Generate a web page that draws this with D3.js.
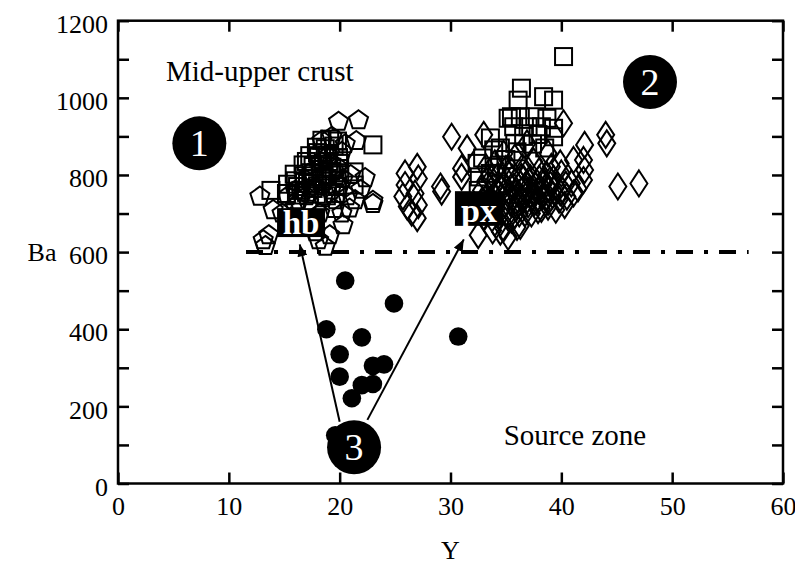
<!DOCTYPE html>
<html>
<head>
<meta charset="utf-8">
<script src="https://cdn.jsdelivr.net/npm/d3@7"></script>
<style>
  body { margin: 0; background: #fff; }
  svg { display: block; }
  text { font-family: "Liberation Serif", "Times New Roman", serif; fill: #000; }
</style>
</head>
<body>
<svg id="chart" width="795" height="565"></svg>
<script>
// ---- axis ticks ----
const xTicks = [0, 10, 20, 30, 40, 50, 60];
const yTicks = [0, 100, 200, 300, 400, 500, 600, 700, 800, 900, 1000, 1100, 1200];
const yLabelled = [0, 200, 400, 600, 800, 1000, 1200];

// ---- samples: [Y, Ba] ----
// hornblende-type samples (open pentagons)
const pentagons = [
  [19.9, 938], [21.7, 942], [21.5, 888], [19.3, 899], [18.4, 889], [20.5, 880], [20.2, 860],
  [12.8, 744], [14.0, 709], [13.6, 644], [13.1, 631], [14.8, 700], [15.6, 690],
  [19.5, 712], [20.9, 713], [21.4, 735], [20.2, 700], [20.3, 670], [19.1, 644], [18.1, 631],
  [18.7, 614], [13.3, 616], [17.8, 652], [16.9, 668], [18.2, 700],
  [20.7, 745], [23.0, 733], [23.0, 725], [21.9, 762], [22.3, 792],
  [16.0, 760], [16.8, 790], [17.5, 810], [18.3, 835], [19.0, 850], [17.9, 770],
  [18.8, 800], [19.8, 820], [20.3, 790], [15.3, 745], [16.3, 735], [17.2, 728],
  [19.2, 760], [20.0, 772], [17.0, 745], [18.5, 740], [19.6, 735], [16.0, 720],
  [21.0, 800]
];

// open squares
const squares = [
  [18.4, 890], [19.1, 893], [19.8, 888],
  [17.9, 872], [18.7, 868], [19.5, 875],
  [17.3, 850], [18.1, 846], [18.9, 852], [19.9, 845],
  [16.7, 826], [17.6, 822], [18.5, 828], [19.3, 820], [20.0, 830],
  [15.9, 802], [16.8, 798], [17.7, 804], [18.6, 796], [19.5, 800], [20.0, 806],
  [15.3, 776], [16.2, 770], [17.1, 778], [18.0, 772], [18.9, 776], [19.8, 770],
  [15.2, 752], [16.1, 748], [17.0, 755], [17.9, 750], [18.8, 746], [19.6, 752],
  [17.4, 790], [18.3, 815], [19.0, 835], [16.5, 760], [17.6, 765], [18.4, 785],
  [19.2, 810], [16.0, 785], [17.0, 835], [18.0, 858],
  [13.8, 760], [21.3, 808], [21.3, 774], [23.0, 878],
  [40.2, 1107], [36.4, 1025], [36.1, 994], [38.4, 1003], [39.3, 994],
  [35.5, 951], [36.3, 951], [37.6, 951], [38.7, 947], [35.2, 947],
  [39.3, 921], [35.7, 925], [37.0, 925], [38.2, 925], [39.3, 899], [35.8, 882],
  [33.6, 896], [32.9, 844], [33.9, 865], [32.4, 830], [33.6, 804], [32.5, 760],
  [34.5, 870], [35.0, 840], [36.6, 900], [37.4, 880], [38.5, 870], [34.2, 820],
  [36.0, 860], [37.9, 905], [32.6, 795]
];

// pyroxene-type samples (open diamonds)
const diamonds = [
  [25.9, 804], [27.0, 821], [25.9, 774], [27.1, 791], [25.7, 744], [26.8, 752],
  [26.1, 718], [27.1, 722], [27.0, 688], [26.5, 702], [29.1, 770], [29.2, 757],
  [30.1, 899], [31.5, 869], [31.0, 795], [31.0, 817], [33.0, 904], [32.5, 644],
  [34.5, 653], [36.0, 665],
  [45.1, 770], [47.0, 778], [44.0, 904], [44.1, 882], [42.1, 878], [42.0, 839],
  [42.1, 813], [42.0, 787], [41.1, 839], [40.9, 778], [41.1, 752], [40.2, 934],
  [39.9, 830], [40.0, 804], [39.1, 821], [38.8, 856], [39.0, 787], [38.8, 718],
  [37.9, 761], [37.9, 709], [37.0, 813], [36.7, 770], [36.1, 735], [36.9, 882],
  [36.7, 700],
  [32.8, 760], [33.2, 785], [33.5, 735], [33.9, 770], [34.1, 712], [34.3, 798],
  [34.6, 745], [34.8, 778], [35.0, 702], [35.2, 758], [35.4, 728], [35.6, 792],
  [35.9, 714], [36.1, 752], [36.3, 776], [36.5, 738], [36.8, 758], [37.0, 724],
  [37.2, 792], [37.4, 744], [37.7, 772], [37.9, 734], [38.1, 754], [38.4, 778],
  [38.6, 742], [38.9, 764], [39.2, 748], [39.5, 772], [39.8, 736], [40.1, 760],
  [40.5, 744],
  [33.0, 692], [34.0, 676], [34.8, 662], [35.5, 684], [36.3, 668], [33.8, 656],
  [35.2, 640], [37.3, 700], [38.2, 712], [35.8, 696], [34.4, 690], [39.5, 710],
  [40.3, 722],
  [34.0, 830], [35.0, 815], [35.8, 845], [36.5, 820], [37.5, 835], [38.0, 810],
  [33.2, 820], [34.8, 855],
  [33.4, 750], [34.0, 742], [34.5, 765], [35.1, 785], [35.7, 770], [36.0, 720],
  [36.6, 790], [37.1, 760], [37.6, 730], [38.3, 745], [38.8, 730], [39.3, 790],
  [39.9, 755], [34.9, 725], [35.3, 745], [36.2, 700], [36.9, 735], [37.5, 755],
  [38.0, 790], [38.7, 800], [33.7, 790], [34.2, 760], [35.5, 810], [36.4, 795],
  [37.8, 780], [39.0, 775], [40.4, 775], [41.5, 765], [33.1, 715], [32.9, 735]
];

// source-zone samples (filled circles)
const sources = [
  [20.5, 526], [24.9, 467], [18.8, 400], [22.0, 379], [30.7, 381], [20.0, 335],
  [20.0, 277], [24.0, 309], [23.0, 305], [23.0, 258], [22.0, 255], [21.1, 221],
  [19.6, 125]
];

// ---- layout ----
const svg = d3.select("#chart");
const x = d3.scaleLinear().domain([0, 60]).range([118, 783]);
const y = d3.scaleLinear().domain([0, 1200]).range([483.5, 20.7]);

// frame
svg.append("rect")
  .attr("x", x(0)).attr("y", y(1200))
  .attr("width", x(60) - x(0)).attr("height", y(0) - y(1200))
  .attr("fill", "none").attr("stroke", "#000").attr("stroke-width", 2.5);

const tickLen = 11;
function styleAxis(g) {
  g.attr("font-family", "'Liberation Serif', 'Times New Roman', serif");
  g.select(".domain").remove();
  g.selectAll(".tick line").attr("stroke", "#000").attr("stroke-width", 2.5);
  g.selectAll(".tick text").attr("font-size", 26).attr("fill", "#000");
}

svg.append("g").attr("transform", `translate(0,${y(0)})`)
  .call(d3.axisBottom(x).tickValues(xTicks).tickSizeInner(-tickLen).tickSizeOuter(0).tickPadding(13))
  .call(styleAxis);
svg.append("g").attr("transform", `translate(0,${y(1200)})`)
  .call(d3.axisTop(x).tickValues(xTicks).tickSizeInner(-tickLen).tickSizeOuter(0).tickFormat(""))
  .call(styleAxis);
svg.append("g").attr("transform", `translate(${x(0)},0)`)
  .call(d3.axisLeft(y).tickValues(yTicks).tickSizeInner(-tickLen).tickSizeOuter(0).tickPadding(10)
    .tickFormat(d => yLabelled.includes(d) ? d : ""))
  .call(styleAxis)
  .selectAll(".tick text").attr("dy", "0.45em");
svg.append("g").attr("transform", `translate(${x(60)},0)`)
  .call(d3.axisRight(y).tickValues(yTicks).tickSizeInner(-tickLen).tickSizeOuter(0).tickFormat(""))
  .call(styleAxis);

// axis titles
svg.append("text").attr("x", 42).attr("y", y(600) + 9).attr("text-anchor", "middle")
  .attr("font-size", 26).text("Ba");
svg.append("text").attr("x", x(30)).attr("y", 559).attr("text-anchor", "middle")
  .attr("font-size", 26).text("Y");

// boundary between mid-upper crust and source zone
svg.append("line")
  .attr("x1", x(11.55)).attr("x2", x(56.9))
  .attr("y1", y(600)).attr("y2", y(600))
  .attr("stroke", "#000").attr("stroke-width", 4)
  .attr("stroke-dasharray", "17,11,4,11");

// markers
const pentPath = (() => {
  const r = 10, pts = [];
  for (let k = 0; k < 5; k++) {
    const a = -Math.PI / 2 + k * 2 * Math.PI / 5;
    pts.push([r * Math.cos(a), r * Math.sin(a)]);
  }
  return "M" + pts.map(p => p.join(",")).join("L") + "Z";
})();
const diamondPath = "M0,-13L8.5,0L0,13L-8.5,0Z";
const sq = 17;

const marks = svg.append("g").attr("fill", "none").attr("stroke", "#000").attr("stroke-width", 2);

marks.selectAll("path.pent").data(pentagons).join("path")
  .attr("class", "pent").attr("d", pentPath)
  .attr("transform", d => `translate(${x(d[0])},${y(d[1])})`);

marks.selectAll("rect.sq").data(squares).join("rect")
  .attr("class", "sq")
  .attr("x", d => x(d[0]) - sq / 2).attr("y", d => y(d[1]) - sq / 2)
  .attr("width", sq).attr("height", sq);

marks.selectAll("path.dia").data(diamonds).join("path")
  .attr("class", "dia").attr("d", diamondPath)
  .attr("transform", d => `translate(${x(d[0])},${y(d[1])})`);

svg.append("g").selectAll("circle").data(sources).join("circle")
  .attr("cx", d => x(d[0])).attr("cy", d => y(d[1])).attr("r", 9.3)
  .attr("fill", "#000");

// mineral labels
function boxLabel(x0, x1, b0, b1, label, size, baselineBa) {
  svg.append("rect")
    .attr("x", x(x0)).attr("y", y(b1))
    .attr("width", x(x1) - x(x0)).attr("height", y(b0) - y(b1))
    .attr("fill", "#000");
  svg.append("text")
    .attr("x", (x(x0) + x(x1)) / 2).attr("y", y(baselineBa))
    .attr("text-anchor", "middle").attr("font-size", size).attr("font-weight", "bold")
    .style("fill", "#fff").text(label);
}
boxLabel(14.35, 18.68, 639, 714, "hb", 33, 648);
boxLabel(30.4, 34.75, 668, 758, "px", 34, 678);

// arrows from the source zone
const defs = svg.append("defs");
defs.append("marker").attr("id", "head").attr("viewBox", "0 0 12 10")
  .attr("refX", 12).attr("refY", 5).attr("markerWidth", 12).attr("markerHeight", 10)
  .attr("markerUnits", "userSpaceOnUse").attr("orient", "auto")
  .append("path").attr("d", "M0,0L12,5L0,10Z").attr("fill", "#000");

const arrows = [
  [[20.0, 160], [16.4, 620]],
  [[22.5, 165], [31.2, 633]]
];
svg.selectAll("line.arrow").data(arrows).join("line")
  .attr("class", "arrow")
  .attr("x1", d => x(d[0][0])).attr("y1", d => y(d[0][1]))
  .attr("x2", d => x(d[1][0])).attr("y2", d => y(d[1][1]))
  .attr("stroke", "#000").attr("stroke-width", 2)
  .attr("marker-end", "url(#head)");

// numbered zones
const zones = [[7.34, 882, "1"], [48.0, 1041, "2"], [21.3, 94, "3"]];
zones.forEach(([zx, zb, t]) => {
  svg.append("circle").attr("cx", x(zx)).attr("cy", y(zb)).attr("r", 27).attr("fill", "#000");
  svg.append("text").attr("x", x(zx)).attr("y", y(zb) + 13)
    .attr("text-anchor", "middle").attr("font-size", 38).style("fill", "#fff").text(t);
});

// region names
svg.append("text").attr("x", x(4.33)).attr("y", y(1044)).attr("font-size", 29).text("Mid-upper crust");
svg.append("text").attr("x", x(34.8)).attr("y", y(100)).attr("font-size", 29).text("Source zone");
</script>
</body>
</html>
